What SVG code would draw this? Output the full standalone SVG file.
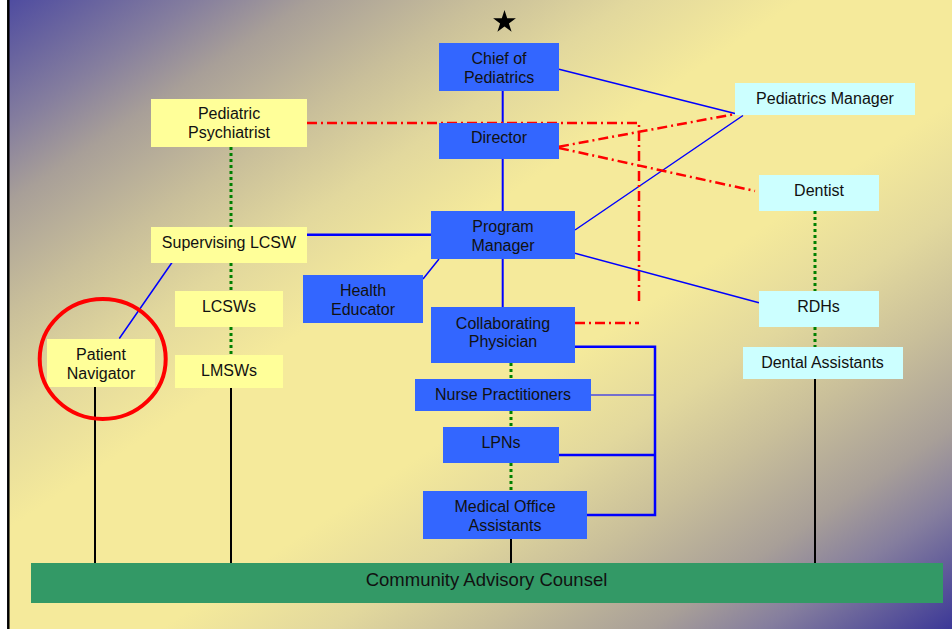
<svg xmlns="http://www.w3.org/2000/svg" width="952" height="629" viewBox="0 0 952 629">
<defs>
<linearGradient id="bg" x1="0" y1="0" x2="1" y2="1">
<stop offset="0" stop-color="#4f4ca0"/>
<stop offset="0.1" stop-color="#857e9e"/>
<stop offset="0.16" stop-color="#a89f98"/>
<stop offset="0.25" stop-color="#c9bf9a"/>
<stop offset="0.33" stop-color="#e2d89d"/>
<stop offset="0.42" stop-color="#f5ea9b"/>
<stop offset="0.58" stop-color="#f5ea9b"/>
<stop offset="0.67" stop-color="#e2d89d"/>
<stop offset="0.75" stop-color="#c9bf9a"/>
<stop offset="0.84" stop-color="#a89f98"/>
<stop offset="0.9" stop-color="#857e9e"/>
<stop offset="1" stop-color="#3c3897"/>
</linearGradient>
<style>
.blue{fill:#3366ff}
.yel{fill:#ffff99}
.cyan{fill:#ccffff}
.grn{fill:#339966}
text{font-family:"Liberation Sans",Arial,sans-serif;font-size:16px;fill:#111;text-anchor:middle}
.bl{stroke:#0000ff;fill:none}
.bk{stroke:#000;stroke-width:2;fill:none}
.dot{stroke:#008000;stroke-width:3;stroke-dasharray:3 3;fill:none}
.red{stroke:#ff0000;stroke-width:2.5;stroke-dasharray:10 4 2 4;fill:none}
</style>
</defs>
<rect x="0" y="0" width="952" height="629" fill="#ffffff"/>
<rect x="9" y="0" width="943" height="629" fill="url(#bg)"/>
<line x1="8.3" y1="0" x2="8.3" y2="629" stroke="#000" stroke-width="2.5"/>
<polygon points="504.5,10 507.2,18.3 515.9,18.3 508.9,23.4 511.6,31.7 504.5,26.6 497.4,31.7 500.1,23.4 493.1,18.3 501.8,18.3" fill="#000"/>

<g id="connectors">
<path class="bl" stroke-width="2" d="M502.7,91 V123 M502.7,159 V211 M502.7,259 V307"/>
<path class="bl" stroke-width="2.5" d="M307,234.7 H431"/>
<path class="bl" stroke-width="1.5" d="M439,259 L423,279 M559,69.3 L735,113.5 M575,230 L743,115.5 M575,253.3 L759,302.7 M172,262.5 L119.3,338.5"/>
<path class="bl" stroke-width="2.5" d="M575,346.7 H655 V515 H587 M559,455 H655"/>
<path class="bl" stroke-width="1" d="M591,395 H655"/>
<path class="bk" d="M95,387 V563 M231,388 V563 M511,539 V563 M815,379 V563"/>
<path class="dot" d="M231,147 V227 M231,263 V291 M231,327 V355 M511,363 V379 M511,411 V427 M511,463 V491 M815,211 V291 M815,327 V347"/>
<path class="red" d="M307,123 H639 V302"/>
<path class="red" d="M575,323 H639"/>
<path class="red" d="M559,146.7 L735,114"/>
<path class="red" d="M559,148 L755,191"/>
</g>

<g id="chief"><rect class="blue" x="439" y="43" width="120" height="48"/><text x="499" y="64">Chief of</text><text x="499" y="82.7">Pediatrics</text></g>
<g id="director"><rect class="blue" x="439" y="123" width="120" height="36"/><text x="499" y="143.3">Director</text></g>
<g id="program-manager"><rect class="blue" x="431" y="211" width="144" height="48"/><text x="503" y="232.3">Program</text><text x="503" y="250.7">Manager</text></g>
<g id="health-educator"><rect class="blue" x="303" y="275" width="120" height="48"/><text x="363" y="296">Health</text><text x="363" y="315">Educator</text></g>
<g id="collaborating-physician"><rect class="blue" x="431" y="307" width="144" height="56"/><text x="503" y="329">Collaborating</text><text x="503" y="347.3">Physician</text></g>
<g id="nurse-practitioners"><rect class="blue" x="415" y="379" width="176" height="32"/><text x="503" y="400">Nurse Practitioners</text></g>
<g id="lpns"><rect class="blue" x="443" y="427" width="116" height="36"/><text x="501" y="448">LPNs</text></g>
<g id="moa"><rect class="blue" x="423" y="491" width="164" height="48"/><text x="505" y="512">Medical Office</text><text x="505" y="530.7">Assistants</text></g>

<g id="pediatric-psychiatrist"><rect class="yel" x="151" y="99" width="156" height="48"/><text x="229" y="119.3">Pediatric</text><text x="229" y="138.3">Psychiatrist</text></g>
<g id="supervising-lcsw"><rect class="yel" x="151" y="227" width="156" height="36"/><text x="229" y="248.3">Supervising LCSW</text></g>
<g id="lcsws"><rect class="yel" x="175" y="291" width="108" height="36"/><text x="229" y="312">LCSWs</text></g>
<g id="lmsws"><rect class="yel" x="175" y="355" width="108" height="33"/><text x="229" y="376">LMSWs</text></g>
<g id="patient-navigator"><rect class="yel" x="47" y="339" width="108" height="48"/><text x="101" y="360">Patient</text><text x="101" y="379">Navigator</text>
<ellipse cx="102.7" cy="359" rx="63" ry="60" fill="none" stroke="#ff0000" stroke-width="4"/></g>

<g id="pediatrics-manager"><rect class="cyan" x="735" y="83" width="180" height="32"/><text x="825" y="104">Pediatrics Manager</text></g>
<g id="dentist"><rect class="cyan" x="759" y="175" width="120" height="36"/><text x="819" y="196">Dentist</text></g>
<g id="rdhs"><rect class="cyan" x="759" y="291" width="120" height="36"/><text x="818.5" y="311.7">RDHs</text></g>
<g id="dental-assistants"><rect class="cyan" x="743" y="347" width="160" height="32"/><text x="822.5" y="368">Dental Assistants</text></g>

<g id="community-advisory-counsel"><rect class="grn" x="31" y="563" width="912" height="40"/><text x="486.5" y="586" style="font-size:18.5px">Community Advisory Counsel</text></g>
</svg>
